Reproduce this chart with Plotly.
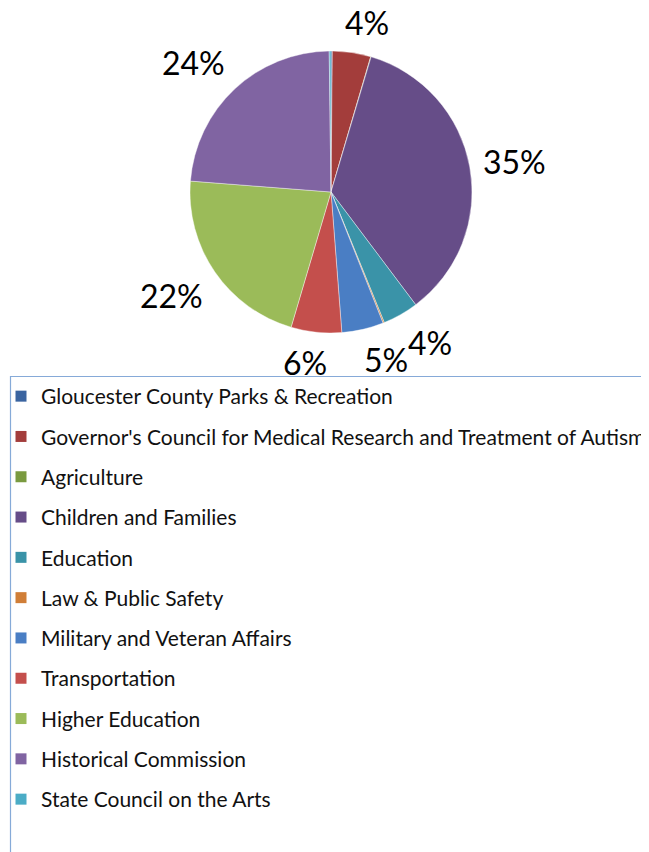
import math
import plotly.graph_objects as go

categories = [
    "Gloucester County Parks & Recreation",
    "Governor's Council for Medical Research and Treatment of Autism",
    "Agriculture",
    "Children and Families",
    "Education",
    "Law & Public Safety",
    "Military and Veteran Affairs",
    "Transportation",
    "Higher Education",
    "Historical Commission",
    "State Council on the Arts",
]
values = [0.15, 4.4, 0.05, 35.2, 4.1, 0.15, 4.8, 5.8, 21.7, 23.6, 0.2]
colors = ["#3A64A0", "#A33D3B", "#7A9A3F", "#664D88", "#3A93A8", "#D07E37",
          "#4A7EC4", "#C44F4C", "#9BBB59", "#8064A2", "#4BACC6"]

W, H = 649, 852
OFF = 8  # page body margin
total = sum(values)


def px_x(x):
    return (x - OFF) / W


def px_y(y):
    return 1 - (y - OFF) / H


cx, cy, r = 331, 192, 141
LABEL_SIZE = 32

fig = go.Figure()
fig.add_trace(go.Pie(
    labels=categories,
    values=values,
    textinfo="none",
    sort=False,
    direction="clockwise",
    rotation=0,
    marker=dict(colors=colors, line=dict(color="rgba(255,255,255,0.5)", width=0.8)),
    showlegend=False,
    hoverinfo="label+percent",
    domain=dict(x=[px_x(cx - r), px_x(cx + r)], y=[px_y(cy + r), px_y(cy - r)]),
))


def clamp01(t):
    return max(0.0, min(1.0, t))


# percentage labels placed outside each slice, derived from the values
annotations = []
cum = 0.0
for v in values:
    frac = v / total
    mid = (cum + frac / 2) * 2 * math.pi
    cum += frac
    if frac < 0.02:
        continue
    txt = f"{round(frac * 100)}%"
    w = 0.58 * LABEL_SIZE * (len(txt) - 1) + 0.8 * LABEL_SIZE
    h = 1.0 * LABEL_SIZE
    sx, sy = math.sin(mid), -math.cos(mid)
    ax, ay = cx + (r + 14) * sx, cy + (r + 14) * sy
    fx = math.copysign(clamp01(abs(sx) / 0.25), sx)
    fy = math.copysign(clamp01((abs(sy) - 0.1) / 0.45), sy)
    lx, ly = ax + fx * w / 2, ay + fy * h / 2
    annotations.append(dict(
        x=px_x(lx), y=px_y(ly), xref="paper", yref="paper",
        text=txt, showarrow=False, xanchor="center", yanchor="middle",
        font=dict(family="Lato", size=LABEL_SIZE, color="black"),
    ))

for i, (name, col) in enumerate(zip(categories, colors)):
    fig.add_trace(go.Scatter(
        x=[None], y=[None], mode="markers", name=name,
        marker=dict(symbol="square", size=11, color=col, line=dict(width=0)),
        legendgroup=f"g{i}", showlegend=True,
    ))

fig.update_layout(
    width=W, height=H,
    margin=dict(l=0, r=0, t=0, b=0, autoexpand=False),
    paper_bgcolor="white", plot_bgcolor="white",
    xaxis=dict(visible=False), yaxis=dict(visible=False),
    showlegend=True,
    legend=dict(
        x=px_x(1), y=px_y(376), xanchor="left", yanchor="top",
        font=dict(family="Lato", size=21, color="#111111"),
        tracegroupgap=10, itemwidth=30,
        bgcolor="rgba(0,0,0,0)", borderwidth=0,
        itemclick=False, itemdoubleclick=False,
    ),
    annotations=annotations,
    shapes=[dict(type="rect", xref="paper", yref="paper",
                 x0=px_x(10.5), x1=px_x(W + 20), y0=px_y(H + 20), y1=px_y(376.5),
                 line=dict(color="#86AAD8", width=1.2), fillcolor="rgba(0,0,0,0)")],
)

fig.write_html("out.html")
